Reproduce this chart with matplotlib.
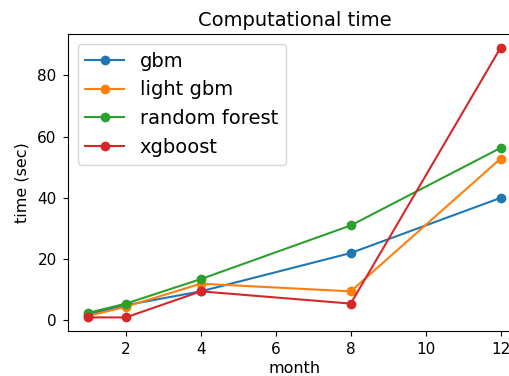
import matplotlib
matplotlib.use("Agg")
import matplotlib.pyplot as plt

months = [1, 2, 4, 8, 12]
gbm = [2, 5, 9.5, 22, 40]
light_gbm = [1.5, 4.5, 12, 9.5, 52.8]
random_forest = [2.5, 5.5, 13.5, 31, 56.3]
xgboost = [1, 1, 9.5, 5.5, 89]

fig = plt.figure(figsize=(5.1, 3.76), dpi=100)
# right side of the axes runs past the figure edge, as in the reference
ax = fig.add_axes([0.133, 0.12, 0.889, 0.789])

ax.plot(months, gbm, 'o-', label="gbm")
ax.plot(months, light_gbm, 'o-', label="light gbm")
ax.plot(months, random_forest, 'o-', label="random forest")
ax.plot(months, xgboost, 'o-', label="xgboost")

ax.set_xticks([2, 4, 6, 8, 10, 12])
ax.set_yticks([0, 20, 40, 60, 80])
ax.tick_params(labelsize=11, pad=4.5)
ax.set_xlabel("month", fontsize=11.5, labelpad=3)
ax.set_ylabel("time (sec)", fontsize=11.5, labelpad=6)
ax.set_title("Computational time", fontsize=14)
ax.legend(fontsize=14, loc="upper left")

fig.savefig("out.png", dpi=100)
